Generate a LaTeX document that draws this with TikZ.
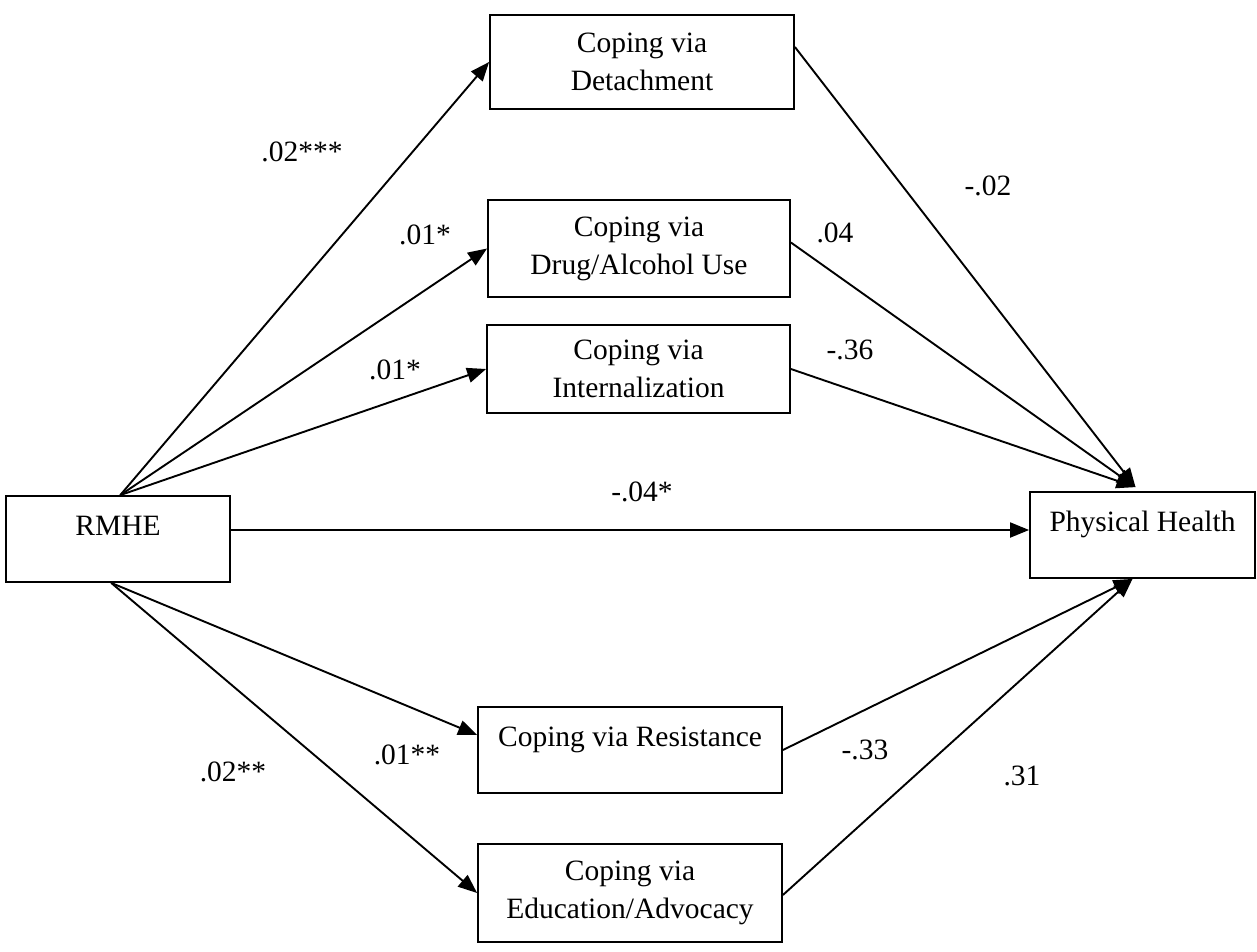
\documentclass[tikz,border=0pt]{standalone}
\usepackage{fontspec}
\setmainfont{Liberation Serif}
\usetikzlibrary{arrows.meta,calc}
\begin{document}
\begin{tikzpicture}[x=1pt,y=-1pt,
  every node/.style={font=\fontsize{29.5}{38}\selectfont},
  box/.style={draw,line width=1.8pt,inner sep=0pt,align=center},
  oneline/.style={text height=20pt,text depth=28pt},
  arr/.style={line width=1.9pt,-{Triangle[length=19pt,width=15pt]}},
  lab/.style={inner sep=0pt}]
\useasboundingbox (0,0) rectangle (1257,952);
% boxes
\node[box,minimum width=304pt,minimum height=94pt] (det) at (642,62) {Coping via\\Detachment};
\node[box,minimum width=302pt,minimum height=97pt] (drug) at (639,248.5) {Coping via\\Drug/Alcohol Use};
\node[box,minimum width=303pt,minimum height=88pt] (intern) at (638.5,369) {Coping via\\Internalization};
\node[box,oneline,minimum width=224pt,minimum height=86pt] (rmhe) at (118,539) {RMHE};
\node[box,oneline,minimum width=225pt,minimum height=86pt] (ph) at (1142.5,535) {Physical Health};
\node[box,oneline,minimum width=304pt,minimum height=86pt] (res) at (630,750) {Coping via Resistance};
\node[box,minimum width=304pt,minimum height=98pt] (edu) at (630,893) {Coping via\\Education/Advocacy};
% connection points
\coordinate (rtop) at ($(rmhe.north west)!0.51!(rmhe.north east)$);
\coordinate (rbot) at ($(rmhe.south west)!0.47!(rmhe.south east)$);
\coordinate (ptop) at ($(ph.north)+(-7,-4)$);
\coordinate (pbot) at ($(ph.south)+(-10,0)$);
\coordinate (h0) at ($(rmhe.east)+(0,-9)$);
% arrows from RMHE
\draw[arr] (rtop) -- (det.west);
\draw[arr] (rtop) -- (drug.west);
\draw[arr] (rtop) -- (intern.west);
\draw[arr] (h0) -- (h0 -| ph.west);
\draw[arr] (rbot) -- ($(res.west)+(0,-15)$);
\draw[arr] (rbot) -- (edu.west);
% arrows to Physical Health
\draw[arr] ($(det.east)+(0,-15)$) -- (ptop);
\draw[arr] ($(drug.east)+(0,-6)$) -- (ptop);
\draw[arr] (intern.east) -- (ptop);
\draw[arr] (res.east) -- (pbot);
\draw[arr] ($(edu.east)+(0,2)$) -- (pbot);
% labels
\node[lab] (l1) at (302,152) {.02***};
\node[lab] (l2) at (425,235) {.01*};
\node[lab] (l3) at (395,370) {.01*};
\node[lab] (l4) at (642,492) {-.04*};
\node[lab] (l5) at (233,772) {.02**};
\node[lab] (l6) at (407,755) {.01**};
\node[lab] (l7) at (988,186) {-.02};
\node[lab] (l8) at (835,233) {.04};
\node[lab] (l9) at (850,350) {-.36};
\node[lab] (l10) at (865,750) {-.33};
\node[lab] (l11) at (1022,776) {.31};
\end{tikzpicture}
\end{document}
